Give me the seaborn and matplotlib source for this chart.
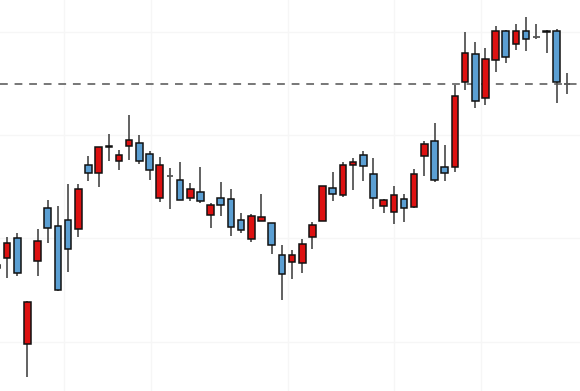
import numpy as np
import pandas as pd
import matplotlib
matplotlib.use("Agg")
import matplotlib.pyplot as plt
import seaborn as sns

# OHLC values (one per trading day)
opens = [17.42, 18.13, 20.04, 9.75, 17.84, 22.91, 21.17, 21.78, 20.88, 27.13,
         26.36, 28.80, 27.49, 28.94, 29.26, 28.14, 23.88, 26.04, 25.65, 23.91,
         24.52, 22.29, 23.91, 23.78, 21.75, 19.94, 21.71, 21.46, 18.42, 17.69,
         17.65, 20.11, 21.71, 24.91, 24.17, 27.10, 28.10, 26.26, 23.18, 22.58,
         23.78, 23.01, 27.94, 29.43, 26.94, 26.91, 35.16, 37.82, 33.56, 37.29,
         40.10, 38.78, 40.10, 39.49, 39.94, 40.10, 34.94]
highs = [17.71, 20.14, 20.52, 13.90, 20.91, 23.69, 23.14, 25.26, 25.23, 28.00,
         28.85, 30.07, 28.55, 31.91, 30.03, 28.49, 27.85, 26.81, 27.42, 25.39,
         26.88, 23.43, 25.43, 24.81, 22.49, 22.33, 24.27, 21.50, 19.33, 18.88,
         19.94, 21.62, 25.10, 26.40, 27.39, 27.81, 28.43, 27.81, 23.78, 25.10,
         24.33, 26.69, 29.43, 31.20, 29.01, 34.87, 40.00, 38.98, 38.40, 40.55,
         40.15, 40.72, 41.42, 40.72, 40.17, 40.23, 36.03]
lows = [16.94, 16.20, 16.36, 6.59, 16.36, 19.53, 14.95, 16.75, 20.11, 25.58,
        25.02, 27.49, 26.62, 27.59, 27.17, 25.62, 23.55, 22.85, 23.69, 23.62,
        23.45, 20.98, 22.14, 20.23, 20.55, 19.65, 21.68, 18.49, 14.04, 16.07,
        16.62, 18.97, 21.68, 23.59, 24.01, 24.68, 25.58, 22.85, 22.43, 21.40,
        21.56, 22.98, 26.01, 25.43, 25.58, 26.45, 34.36, 32.65, 32.91, 36.13,
        36.97, 38.23, 38.16, 39.27, 37.91, 33.07, 33.97]
closes = [17.13, 19.58, 16.68, 13.85, 19.75, 21.01, 15.01, 19.00, 24.78, 26.36,
          28.82, 28.94, 28.10, 29.55, 27.52, 26.65, 27.10, 26.04, 23.75, 24.75,
          23.62, 23.20, 23.20, 21.13, 20.84, 22.20, 22.04, 19.39, 16.53, 18.42,
          19.43, 21.30, 25.07, 24.33, 27.10, 27.39, 26.98, 23.88, 23.75, 24.20,
          22.91, 26.23, 29.11, 25.62, 26.36, 33.78, 37.97, 33.27, 37.36, 40.10,
          37.58, 40.10, 39.33, 39.49, 40.10, 35.16, 34.94]
ref_level = 34.9
month_marks = [6.56, 15.12, 28.6, 39.0, 47.56]

df = pd.DataFrame({"open": opens, "high": highs, "low": lows, "close": closes})
df["day"] = np.arange(len(df))
df["up"] = df["close"] > df["open"]
df["bottom"] = df[["open", "close"]].min(axis=1)
df["height"] = (df["close"] - df["open"]).abs()

sns.set_theme(style="white")
fig = plt.figure(figsize=(5.8, 3.91), dpi=100)
ax = fig.add_axes([0, 0, 1, 1])

# wicks
ax.vlines(df["day"], df["low"], df["high"], color="#555555", linewidth=1.3, zorder=2)

# bodies
body = df[df["height"] > 0]
ax.bar(body["day"], body["height"], bottom=body["bottom"], width=0.65,
       color=np.where(body["up"], "#dd1111", "#5b9fd3"),
       edgecolor="#111111", linewidth=1.1, zorder=3)

# doji (open == close)
flat = df[df["height"] == 0]
ax.hlines(flat["open"], flat["day"] - 0.33, flat["day"] + 0.33,
          color="#555555", linewidth=1.3, zorder=3)

ax.axhline(ref_level, color="#777777", linestyle=(0, (4, 3.5)), linewidth=1.4, zorder=1)

ax.set_xlim(0.31, 57.29)
ax.set_ylim(5.23, 43.07)
ax.set_yticks([10, 20, 30, 40])
ax.set_xticks(month_marks)
ax.grid(True, color="#f6f6f6", linewidth=1)
ax.set_axisbelow(True)
ax.tick_params(left=False, bottom=False, labelleft=False, labelbottom=False)
for s in ax.spines.values():
    s.set_visible(False)

fig.savefig("out.png", dpi=100)
